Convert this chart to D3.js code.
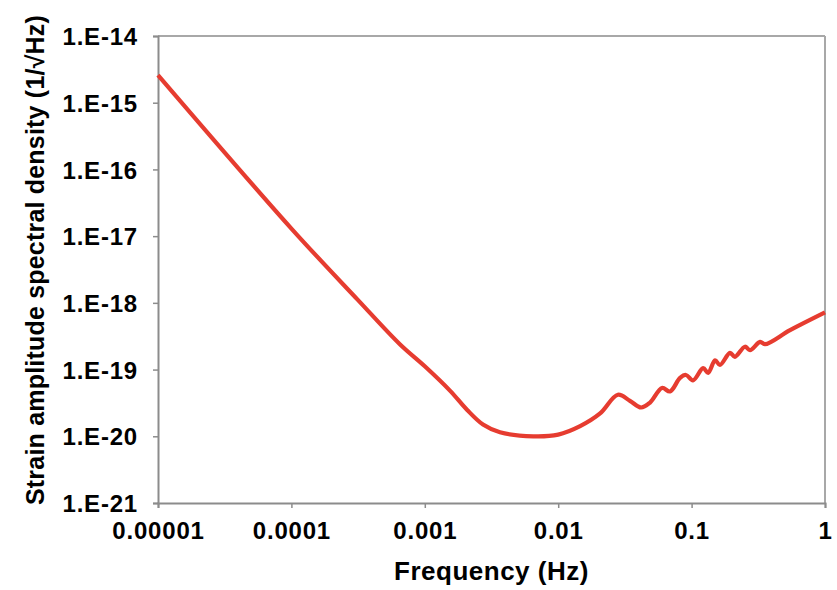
<!DOCTYPE html>
<html>
<head>
<meta charset="utf-8">
<script src="https://cdn.jsdelivr.net/npm/d3@7"></script>
<style>
  body { margin: 0; background: #fff; }
  text { font-family: "Liberation Sans", Arial, Helvetica, sans-serif; font-weight: bold; fill: #000; }
</style>
</head>
<body>
<svg id="chart" width="837" height="590"></svg>
<script>
// values (Hz, 1/sqrt(Hz))
var freq = [1e-5, 1e-4, 3.16e-4, 6.5e-4, 1.0e-3, 1.55e-3, 2.07e-3, 2.73e-3, 3.66e-3,
    6.5e-3, 1.0e-2, 1.46e-2, 2.06e-2, 2.8e-2, 3.45e-2, 4.18e-2, 4.88e-2, 6.0e-2,
    6.89e-2, 8.19e-2, 9.08e-2, 0.1025, 0.122, 0.133, 0.150, 0.163, 0.194, 0.211,
    0.251, 0.274, 0.326, 0.355, 0.547, 1.0];
var strain = [2.6e-15, 1.3e-17, 1.1e-18, 2.4e-19, 1.12e-19, 4.8e-20, 2.5e-20, 1.5e-20, 1.15e-20,
    1.0e-20, 1.06e-20, 1.42e-20, 2.2e-20, 4.2e-20, 3.4e-20, 2.7e-20, 3.2e-20, 5.3e-20,
    4.7e-20, 7.5e-20, 8.3e-20, 6.9e-20, 1.05e-19, 8.9e-20, 1.38e-19, 1.17e-19, 1.78e-19, 1.55e-19,
    2.2e-19, 1.95e-19, 2.6e-19, 2.4e-19, 3.9e-19, 7.2e-19];

var xTicks = [1e-5, 1e-4, 1e-3, 1e-2, 1e-1, 1];
var xTickLabels = ["0.00001", "0.0001", "0.001", "0.01", "0.1", "1"];
var yTicks = [1e-14, 1e-15, 1e-16, 1e-17, 1e-18, 1e-19, 1e-20, 1e-21];
var yTickLabels = ["1.E-14", "1.E-15", "1.E-16", "1.E-17", "1.E-18", "1.E-19", "1.E-20", "1.E-21"];

var margin = {left: 158, right: 12, top: 36, bottom: 87};
var svg = d3.select("#chart");
var width = +svg.attr("width");
var height = +svg.attr("height");

var x = d3.scaleLog().domain([1e-5, 1]).range([margin.left, width - margin.right]);
var y = d3.scaleLog().domain([1e-21, 1e-14]).range([height - margin.bottom, margin.top]);

// top and right frame lines
svg.append("line")
    .attr("x1", x(1e-5)).attr("x2", x(1))
    .attr("y1", y(1e-14)).attr("y2", y(1e-14))
    .attr("stroke", "#a8a8a8").attr("stroke-width", 2);
svg.append("line")
    .attr("x1", x(1)).attr("x2", x(1))
    .attr("y1", y(1e-14)).attr("y2", y(1e-21))
    .attr("stroke", "#a8a8a8").attr("stroke-width", 2);

var yAxis = svg.append("g")
    .attr("transform", "translate(" + margin.left + ",0)")
    .call(d3.axisLeft(y).tickValues(yTicks).tickSizeOuter(0).tickSize(5).tickPadding(15)
        .tickFormat(function(d, i) { return yTickLabels[i]; }));

var xAxis = svg.append("g")
    .attr("transform", "translate(0," + (height - margin.bottom) + ")")
    .call(d3.axisBottom(x).tickValues(xTicks).tickSizeOuter(0).tickSize(5).tickPadding(6)
        .tickFormat(function(d, i) { return xTickLabels[i]; }));

[yAxis, xAxis].forEach(function(g) {
    g.select(".domain").attr("stroke", "#8c8c8c").attr("stroke-width", 2);
    g.selectAll(".tick line").attr("stroke", "#8c8c8c").attr("stroke-width", 1.5);
    g.selectAll(".tick text")
        .attr("font-family", null)
        .style("font-size", "24px")
        .style("letter-spacing", "0.8px");
});
yAxis.selectAll(".tick text").attr("dy", "0.36em");
xAxis.selectAll(".tick text").attr("dy", "1.05em");

var line = d3.line()
    .x(function(d, i) { return x(freq[i]); })
    .y(function(d) { return y(d); })
    .curve(d3.curveCatmullRom.alpha(0.5));

svg.append("path")
    .datum(strain)
    .attr("d", line)
    .attr("fill", "none")
    .attr("stroke", "#e63c30")
    .attr("stroke-width", 4.2)
    .attr("stroke-linejoin", "round");

// axis titles
svg.append("text")
    .attr("x", (x(1e-5) + x(1)) / 2)
    .attr("y", 580)
    .attr("text-anchor", "middle")
    .style("font-size", "26px")
    .style("letter-spacing", "0.5px")
    .text("Frequency (Hz)");

svg.append("text")
    .attr("transform", "translate(44," + 260 + ") rotate(-90)")
    .attr("text-anchor", "middle")
    .style("font-size", "25px")
    .style("letter-spacing", "0.2px")
    .text("Strain amplitude spectral density (1/\u221AHz)");
</script>
</body>
</html>
